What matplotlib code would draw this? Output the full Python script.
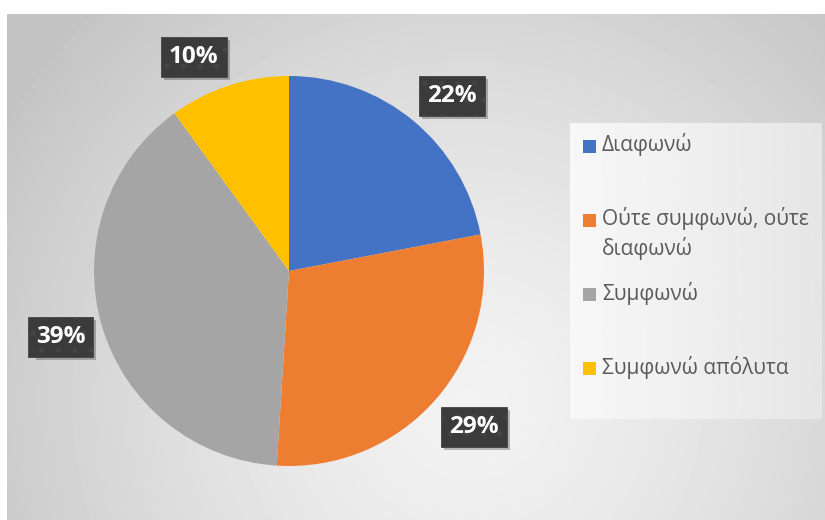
import numpy as np
import matplotlib.pyplot as plt
from matplotlib.patches import Rectangle
from matplotlib.transforms import IdentityTransform

plt.rcParams['font.family'] = ['Open Sans', 'DejaVu Sans']
plt.rcParams['hatch.linewidth'] = 1.5

categories = ['Διαφωνώ', 'Ούτε συμφωνώ, ούτε\nδιαφωνώ', 'Συμφωνώ', 'Συμφωνώ απόλυτα']
shares = [22, 29, 39, 10]
colors = ['#4472c4', '#ed7d31', '#a5a5a5', '#ffc000']

W, H = 825, 520
fig = plt.figure(figsize=(W / 100, H / 100), dpi=100)
fig.patch.set_facecolor('white')

# chart area with a soft radial grey gradient
bg = fig.add_axes([7 / W, 0, (W - 7) / W, (H - 14) / H], zorder=0)
yy, xx = np.mgrid[14:H, 7:W]
t = np.clip(np.hypot(xx - 470, yy - 400) / 560, 0, 1)
shade = 0.95 - 0.19 * t ** 1.4
bg.imshow(shade, cmap='gray', vmin=0, vmax=1, aspect='auto',
          interpolation='bilinear')
bg.axis('off')

# pie, centre at (289, 271) px, radius 195 px
cx, cy, r = 289, 271, 195
lim = 1.3
ax = fig.add_axes([(cx - lim * r) / W, (H - cy - lim * r) / H,
                   2 * lim * r / W, 2 * lim * r / H], zorder=1)
wedges, _ = ax.pie(shares, colors=colors, startangle=90, counterclock=False,
                   radius=1, wedgeprops=dict(linewidth=0))
ax.set_xlim(-lim, lim)
ax.set_ylim(-lim, lim)
ax.set_aspect('equal')
ax.axis('off')

# percentage callouts on dark dotted boxes, pushed just outside the rim
label_turn = [-3.3, 1.3, 0.0, 6.0]
label_dist = [1.228, 1.241, 1.22, 1.20]
labels = []
for w, v, dt, rd in zip(wedges, shares, label_turn, label_dist):
    mid = np.deg2rad((w.theta1 + w.theta2) / 2 + dt)
    labels.append(ax.text(rd * np.cos(mid), rd * np.sin(mid), f'{v}%',
                          ha='center', va='center', fontsize=17.5,
                          fontweight='bold', color='white', zorder=4,
                          bbox=dict(boxstyle='square,pad=0.33',
                                    facecolor='#3b3b3b', edgecolor='#444444',
                                    linewidth=0.6, hatch='.')))

# drop shadows under the callout boxes
fig.canvas.draw()
renderer = fig.canvas.get_renderer()
for txt in labels:
    box = txt.get_bbox_patch().get_window_extent(renderer)
    ax.add_patch(Rectangle((box.x0 + 3, box.y0 - 3), box.width, box.height,
                           transform=IdentityTransform(), facecolor='black',
                           alpha=0.25, edgecolor='none', zorder=3))

# legend panel
lx, ly, lw, lh = 570, 123, 252, 296
lg = fig.add_axes([lx / W, (H - ly - lh) / H, lw / W, lh / H], zorder=2)
lg.set_xlim(0, lw)
lg.set_ylim(lh, 0)
grad = np.linspace(0.97, 0.90, 200)[None, :]
lg.imshow(grad, cmap='gray', vmin=0, vmax=1, aspect='auto',
          extent=[0, lw, lh, 0])
lg.axis('off')

for i, (name, c) in enumerate(zip(categories, colors)):
    y = 23 + i * 74.3
    lg.add_patch(Rectangle((13, y - 6.5), 13, 13, facecolor=c, edgecolor='none'))
    lg.text(32, y - 13, name, ha='left', va='top', fontsize=15,
            color='#595959', linespacing=1.4)

fig.savefig('out.png', dpi=100, facecolor='white')
